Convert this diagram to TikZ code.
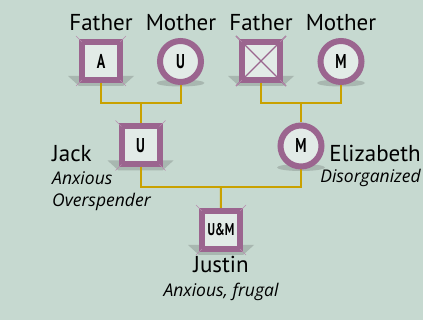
\documentclass[tikz,border=0pt]{standalone}
\usepackage{fontspec}
\usetikzlibrary{calc}
\setmainfont{PT Sans}
\newfontfamily\itfont{Open Sans Italic}
\newfontfamily\condfont{PT Sans}[FakeStretch=0.7]
\definecolor{bgc}{HTML}{C6D9D0}
\definecolor{mauve}{HTML}{9B658F}
\definecolor{bevel}{HTML}{B88BAE}
\definecolor{gold}{HTML}{C9A100}
\definecolor{innerc}{HTML}{E2EBE7}
\definecolor{shad}{HTML}{A8B7B0}
\pgfdeclarelayer{bgl}\pgfdeclarelayer{mid}\pgfsetlayers{bgl,mid,main}
\begin{document}
\begin{tikzpicture}[x=1pt,y=-1pt,
 sqbox/.style={rectangle, draw=mauve, line width=6pt, fill=innerc, minimum size=38pt, inner sep=0pt, font=\condfont\bfseries\fontsize{20}{20}\selectfont},
 circbox/.style={circle, draw=mauve, line width=6pt, fill=innerc, minimum size=41pt, inner sep=0pt, font=\condfont\bfseries\fontsize{20}{20}\selectfont},
 conn/.style={draw=gold, line width=2pt},
 lbl/.style={font=\fontsize{23}{23}\selectfont, inner sep=0pt, anchor=base},
 sub/.style={font=\itfont\fontsize{17.5}{17.5}\selectfont, inner sep=0pt},
 bev/.style={draw=bevel, line width=0.6pt},
 shadow/.style={fill=shad}
]
\begin{pgfonlayer}{bgl}
\fill[bgc] (0,0) rectangle (423,320);
\end{pgfonlayer}
\useasboundingbox (0,0) rectangle (423,320);

% generation 1
\node[sqbox] (fa) at (101,61) {A};
\node[circbox] (ma) at (180.5,61.5) {U};
\node[sqbox] (fb) at (261,61) {};
\node[circbox] (mb) at (341,61.5) {M};
% generation 2
\node[sqbox] (jack) at (140.5,145.5) {U};
\node[circbox] (eliz) at (301,146) {M};
% generation 3
\node[sqbox, font=\condfont\bfseries\fontsize{17}{17}\selectfont] (justin) at (221,230) {U\&M};

% crossed square
\draw[mauve, line width=1.2pt] ($(fb.north west)+(-3,-3)$) -- ($(fb.south east)+(3,3)$);
\draw[mauve, line width=1.2pt] ($(fb.north east)+(3,-3)$) -- ($(fb.south west)+(-3,3)$);

% bevels
\foreach \n in {fa,fb,jack,justin}{
  \draw[bev] ($(\n.north west)+(-3,-3)$) -- ($(\n.north west)+(3,3)$);
  \draw[bev] ($(\n.north east)+(3,-3)$) -- ($(\n.north east)+(-3,3)$);
  \draw[bev] ($(\n.south west)+(-3,3)$) -- ($(\n.south west)+(3,-3)$);
  \draw[bev] ($(\n.south east)+(3,3)$) -- ($(\n.south east)+(-3,-3)$);
}

\begin{pgfonlayer}{mid}
% shadows
\foreach \n in {fa,fb,jack,justin}{
  \fill[shadow] ($(\n.south)+(-33,-7)$) -- ($(\n.south)+(33,-7)$) -- ($(\n.south)+(22,3)$) -- ($(\n.south)+(-22,3)$) -- cycle;
}
\foreach \n in {ma,mb,eliz}{
  \fill[shadow] ($(\n.south)+(0,-2)$) ellipse [x radius=24pt, y radius=3.5pt];
}
% connectors
\coordinate (j1) at (140.5,103);
\coordinate (j2) at (301,103);
\coordinate (j3) at (220.75,187);
\draw[conn] (fa.south) |- (j1) -| (ma.south);
\draw[conn] (j1) -- (jack.north);
\draw[conn] (fb.south) |- (j2) -| (mb.south);
\draw[conn] (j2) -- (eliz.north);
\draw[conn] (jack.south) |- (j3) -| (eliz.south);
\draw[conn] (j3) -- (justin.north);
\end{pgfonlayer}

% labels
\node[lbl] (lfa) at (101,31) {Father};
\node[lbl] (lma) at (181,31) {Mother};
\node[lbl] (lfb) at (261,31) {Father};
\node[lbl] (lmb) at (341,31) {Mother};
\node[lbl, anchor=base west] (ljack) at (52,162) {Jack};
\node[sub, anchor=base west] (ljack1) at (52,185) {Anxious};
\node[sub, anchor=base west] (ljack2) at (52,207) {Overspender};
\node[lbl, anchor=base east] (leliz) at (421,162) {Elizabeth};
\node[sub, anchor=base east] (leliz1) at (421,183) {Disorganized};
\node[lbl] (ljustin) at (221,273) {Justin};
\node[sub, anchor=base] (ljustin1) at (221,297) {Anxious, frugal};
\end{tikzpicture}
\end{document}
